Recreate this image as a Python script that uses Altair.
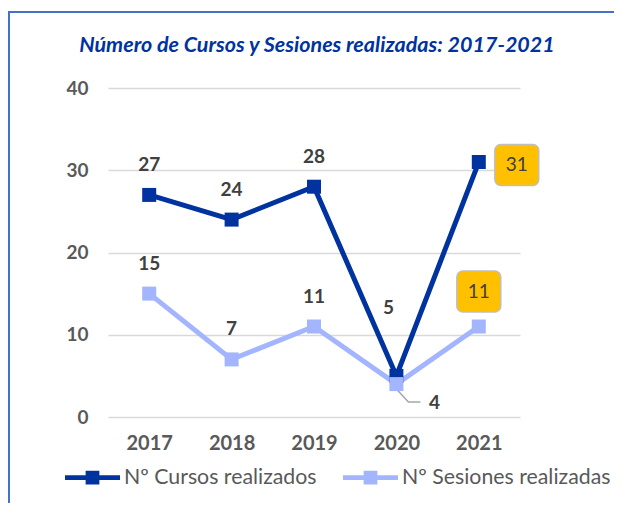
import altair as alt
import pandas as pd

years = ["2017", "2018", "2019", "2020", "2021"]
cursos = [27, 24, 28, 5, 31]
sesiones = [15, 7, 11, 4, 11]
series_names = ["Nº Cursos realizados", "Nº Sesiones realizadas"]
title_text = "Número de Cursos y Sesiones realizadas: 2017-2021"
y_ticks = [0, 10, 20, 30, 40]

rows = []
for yr, c, s in zip(years, cursos, sesiones):
    rows.append({"year": yr, "serie": series_names[0], "value": c})
    rows.append({"year": yr, "serie": series_names[1], "value": s})
df = pd.DataFrame(rows)

DARK = "#0033a0"
LIGHT = "#a3b5ff"
LABEL = "#404040"
AXIS = "#595959"
FONT = "Lato"

legend_path = ("M-1,-0.09L1,-0.09L1,0.09L-1,0.09Z "
               "M-0.25,-0.25L0.25,-0.25L0.25,0.25L-0.25,0.25Z")

color = alt.Color(
    "serie:N",
    scale=alt.Scale(domain=series_names, range=[DARK, LIGHT]),
    legend=alt.Legend(
        title=None, orient="none", direction="horizontal",
        legendX=-43, legendY=362,
        symbolType=legend_path, symbolSize=3025, symbolStrokeWidth=0,
        labelFont=FONT, labelFontSize=21.3, labelColor=AXIS,
        labelOffset=4, columnPadding=26, labelLimit=400,
    ),
)

x = alt.X("year:N", scale=alt.Scale(type="point", padding=0.5),
          axis=alt.Axis(title=None, labelAngle=0, domain=False, ticks=False,
                        labelPadding=16, labelFont=FONT, labelFontSize=20,
                        labelFontWeight="bold", labelColor=AXIS, grid=False))
y = alt.Y("value:Q", scale=alt.Scale(domain=[0, 40]),
          axis=alt.Axis(title=None, values=y_ticks, domain=False, ticks=False,
                        labelPadding=20, labelFont=FONT, labelFontSize=19,
                        labelFontWeight="bold", labelColor=AXIS,
                        grid=True, gridColor="#d9d9d9", gridWidth=1.5))

base = alt.Chart(df).encode(x=x, y=y)

lines = base.mark_line(strokeWidth=5).encode(color=color)
points = base.mark_square(size=196, opacity=1, filled=True).encode(color=color)

txt = dict(font=FONT, fontSize=19, fontWeight="bold", color=LABEL)
labels_main = base.mark_text(dy=-30, **txt).encode(text="value:Q").transform_filter(
    "datum.year != '2020' && datum.year != '2021'")
label_5 = base.mark_text(dx=-8, dy=-68, **txt).encode(text="value:Q").transform_filter(
    f"datum.year == '2020' && datum.serie == '{series_names[0]}'")
label_4 = base.mark_text(dx=38, dy=19, **txt).encode(text="value:Q").transform_filter(
    f"datum.year == '2020' && datum.serie == '{series_names[1]}'")
leader = base.mark_point(shape="M0,0.5L1.2,1.8L2.4,1.8", size=400, filled=False,
                         color="#a6a6a6", strokeWidth=1.5, opacity=1).transform_filter(
    f"datum.year == '2020' && datum.serie == '{series_names[1]}'")

box_style = dict(width=44, height=41, cornerRadius=6, color="#ffc000",
                 stroke="#bfbfbf", strokeWidth=1.5)
box_txt = dict(font=FONT, fontSize=19, color=LABEL)
f31 = f"datum.year == '2021' && datum.serie == '{series_names[0]}'"
f11 = f"datum.year == '2021' && datum.serie == '{series_names[1]}'"
box31 = base.mark_rect(xOffset=38, yOffset=3, **box_style).transform_filter(f31)
text31 = base.mark_text(dx=38, dy=3, **box_txt).encode(text="value:Q").transform_filter(f31)
box11 = base.mark_rect(yOffset=-35, **box_style).transform_filter(f11)
text11 = base.mark_text(dy=-35, **box_txt).encode(text="value:Q").transform_filter(f11)

frame_df = pd.DataFrame({"k": [0]})
frame_left = alt.Chart(frame_df).mark_rule(color="#4472c4", strokeWidth=2, clip=False).encode(
    x=alt.value(-99), y=alt.value(-76), y2=alt.value(430))
frame_top = alt.Chart(frame_df).mark_rule(color="#4472c4", strokeWidth=2, clip=False).encode(
    x=alt.value(-100), x2=alt.value(506), y=alt.value(-76))

chart = alt.layer(
    frame_left, frame_top, lines, leader, points, labels_main, label_5, label_4,
    box31, text31, box11, text11,
).properties(
    width=412, height=329,
    title=alt.TitleParams(title_text, font=FONT, fontSize=21.5, fontStyle="italic",
                          fontWeight="bold", color=DARK, anchor="middle", dx=3,
                          offset=-62, baseline="alphabetic"),
    padding={"left": 100, "top": 80, "right": 94, "bottom": 86},
    autosize=alt.AutoSizeParams(type="none"),
).configure(background="white").configure_view(stroke="transparent", strokeWidth=0)

chart.save("out.html", embed_options={"renderer": "svg", "actions": False})
